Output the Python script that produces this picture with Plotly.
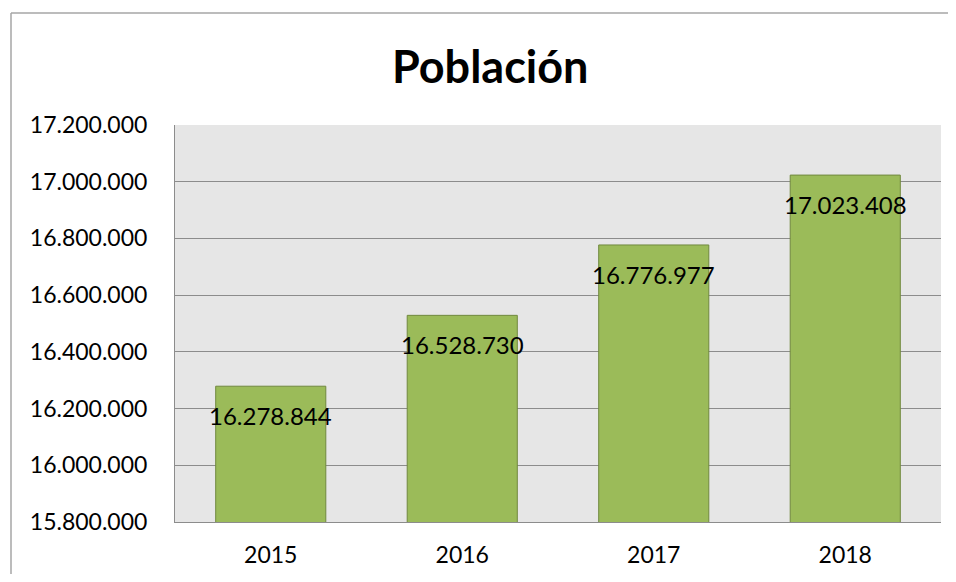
import plotly.graph_objects as go

years = ["2015", "2016", "2017", "2018"]
population = [16278844, 16528730, 16776977, 17023408]
title_text = "Población"

FONT = "Lato, 'Liberation Sans', Arial, sans-serif"

def fmt(v):
    return f"{v:,}".replace(",", ".")

fig = go.Figure()
fig.add_trace(go.Bar(
    x=years, y=population,
    marker=dict(color="#9BBB59", line=dict(color="#71893F", width=1)),
    width=0.575,
    hoverinfo="x+y",
))

# data labels: category axis positions are the category indices
for i, v in enumerate(population):
    fig.add_annotation(x=i, y=v, text=fmt(v), showarrow=False,
                       yanchor="top", yshift=-13,
                       font=dict(family=FONT, size=24, color="#000000"))

H = 566
fig.update_layout(
    width=940, height=H,
    margin=dict(l=167, r=7, t=117, b=H - 514),
    paper_bgcolor="#FFFFFF",
    plot_bgcolor="#E6E6E6",
    separators=",.",
    showlegend=False,
    title=dict(text=f"<b>{title_text}</b>", x=0.513, xanchor="center",
               y=1 - 59 / H, yanchor="middle",
               font=dict(family=FONT, size=45, color="#000000")),
    xaxis=dict(
        type="category", categoryorder="array", categoryarray=years,
        range=[-0.5, len(years) - 0.5],
        showgrid=False, showline=True, linecolor="#8C8C8C", linewidth=1,
        ticks="", ticklabelstandoff=12,
        tickfont=dict(family=FONT, size=23, color="#000000"),
    ),
    yaxis=dict(
        range=[15800000, 17200000], dtick=200000, tick0=15800000,
        tickformat=",d", showgrid=True, gridcolor="#8C8C8C", gridwidth=1,
        showline=True, linecolor="#8C8C8C", linewidth=1, zeroline=False,
        ticks="", ticklabelstandoff=22,
        tickfont=dict(family=FONT, size=23, color="#000000"),
    ),
    font=dict(family=FONT),
)

# chart border (outer frame)
bx = (3 - 167) / 766
by = (514 - 5) / 397
fig.add_shape(type="line", xref="paper", yref="paper",
              x0=bx, x1=bx, y0=-0.3, y1=by,
              line=dict(color="#A6A6A6", width=1.5))
fig.add_shape(type="line", xref="paper", yref="paper",
              x0=bx, x1=1.2, y0=by, y1=by,
              line=dict(color="#A6A6A6", width=1.5))

fig.write_html("out.html")
